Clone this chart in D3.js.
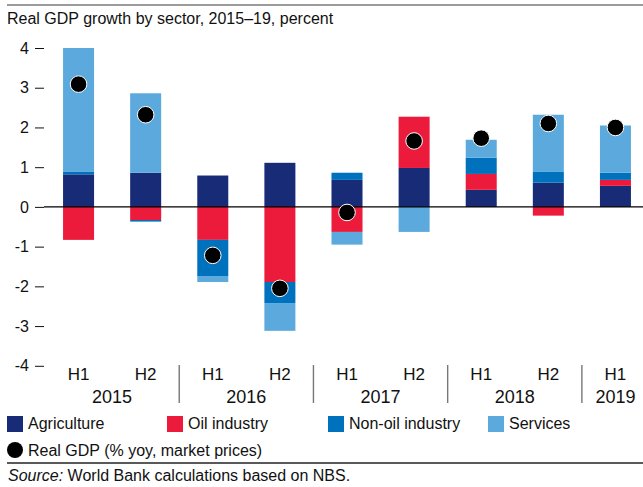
<!DOCTYPE html>
<html>
<head>
<meta charset="utf-8">
<script src="https://cdn.jsdelivr.net/npm/d3@7"></script>
<style>
  body { margin: 0; background: #fff; }
  svg { display: block; font-family: Arial, "Liberation Sans", sans-serif; }
</style>
</head>
<body>
<svg id="chart" width="643" height="487"></svg>
<script>
// chart data
const periods = ["H1", "H2", "H1", "H2", "H1", "H2", "H1", "H2", "H1"];
const years = ["2015", "2016", "2017", "2018", "2019"];
const yearOfPeriod = ["2015", "2015", "2016", "2016", "2017", "2017", "2018", "2018", "2019"];
const agriculture = [0.82, 0.86, 0.79, 1.11, 0.68, 0.98, 0.43, 0.61, 0.53];
const oilIndustry = [-0.83, -0.33, -0.83, -1.89, -0.63, 1.29, 0.40, -0.22, 0.15];
const nonOilIndustry = [0.06, -0.04, -0.91, -0.53, 0.18, 0.0, 0.41, 0.27, 0.18];
const services = [3.12, 2.00, -0.15, -0.70, -0.32, -0.63, 0.45, 1.44, 1.19];
const realGdp = [3.09, 2.32, -1.22, -2.05, -0.14, 1.66, 1.73, 2.10, 2.00];
const yTicks = [-4, -3, -2, -1, 0, 1, 2, 3, 4];

const seriesNames = ["Agriculture", "Oil industry", "Non-oil industry", "Services"];
const colors = ["#172b77", "#ed1b3b", "#0071bc", "#5caadd"];

const svg = d3.select("#chart");
const W = 643;

// table for the stack
const rows = periods.map((p, i) => ({
  idx: i,
  "Agriculture": agriculture[i],
  "Oil industry": oilIndustry[i],
  "Non-oil industry": nonOilIndustry[i],
  "Services": services[i]
}));

const x = d3.scaleBand()
  .domain(d3.range(periods.length))
  .range([45, 649])
  .paddingInner(0.538)
  .paddingOuter(0.269);

const y = d3.scaleLinear()
  .domain([-4, 4])
  .range([365.8, 48]);

const stacked = d3.stack()
  .keys(seriesNames)
  .offset(d3.stackOffsetDiverging)(rows);

// top rule
svg.append("line")
  .attr("x1", 7).attr("x2", W)
  .attr("y1", 5).attr("y2", 5)
  .attr("stroke", "#7a7a7a")
  .attr("stroke-width", 1.6);

// title
svg.append("text")
  .attr("x", 7).attr("y", 24)
  .style("font-size", "16px")
  .attr("fill", "#111")
  .text("Real GDP growth by sector, 2015\u201319, percent");

// y axis
const yAxis = svg.append("g")
  .attr("transform", "translate(44,0)")
  .call(d3.axisLeft(y).tickValues(yTicks).tickSize(9).tickPadding(6).tickFormat(d => String(d)));
yAxis.select(".domain").remove();
yAxis.selectAll("line").attr("stroke", "#111");
yAxis.selectAll("text")
  .style("font-size", "16px")
  .style("font-family", "Arial, 'Liberation Sans', sans-serif")
  .attr("fill", "#111");

// bars
svg.append("g")
  .selectAll("g")
  .data(stacked)
  .join("g")
  .attr("fill", (d, i) => colors[i])
  .selectAll("rect")
  .data(d => d)
  .join("rect")
  .attr("x", d => x(d.data.idx))
  .attr("y", d => y(Math.max(d[0], d[1])))
  .attr("width", x.bandwidth())
  .attr("height", d => Math.abs(y(d[0]) - y(d[1])));

// zero line
svg.append("line")
  .attr("x1", 44).attr("x2", W)
  .attr("y1", y(0)).attr("y2", y(0))
  .attr("stroke", "#000")
  .attr("stroke-width", 1.2);

// real GDP dots
svg.append("g")
  .selectAll("circle")
  .data(realGdp)
  .join("circle")
  .attr("cx", (d, i) => x(i) + x.bandwidth() / 2)
  .attr("cy", d => y(d))
  .attr("r", 8.3)
  .attr("fill", "#000")
  .attr("stroke", "#fff")
  .attr("stroke-width", 1);

// x axis: half-year labels
const xAxis = svg.append("g")
  .attr("transform", "translate(0,360)")
  .call(d3.axisBottom(x).tickSize(0).tickPadding(8).tickFormat(i => periods[i]));
xAxis.select(".domain").remove();
xAxis.selectAll("text")
  .style("font-size", "17px")
  .style("font-family", "Arial, 'Liberation Sans', sans-serif")
  .attr("fill", "#111");

// year labels and separators
const center = i => x(i) + x.bandwidth() / 2;
years.forEach(yr => {
  const idx = d3.range(periods.length).filter(i => yearOfPeriod[i] === yr);
  const cx = d3.mean(idx, center);
  svg.append("text")
    .attr("x", cx).attr("y", 403)
    .attr("text-anchor", "middle")
    .style("font-size", "18px")
    .attr("fill", "#111")
    .text(yr);
});
for (let i = 1; i < periods.length; i++) {
  if (yearOfPeriod[i] !== yearOfPeriod[i - 1]) {
    const sx = (center(i - 1) + center(i)) / 2;
    svg.append("line")
      .attr("x1", sx).attr("x2", sx)
      .attr("y1", 365).attr("y2", 403)
      .attr("stroke", "#777")
      .attr("stroke-width", 1.4);
  }
}

// legend
const legendX = [7, 167, 328, 488];
const legend = svg.append("g");
seriesNames.forEach((name, i) => {
  legend.append("rect")
    .attr("x", legendX[i]).attr("y", 416)
    .attr("width", 16).attr("height", 16)
    .attr("fill", colors[i]);
  legend.append("text")
    .attr("x", legendX[i] + 21).attr("y", 428.5)
    .style("font-size", "16px")
    .attr("fill", "#111")
    .text(name);
});
legend.append("circle")
  .attr("cx", 15).attr("cy", 450)
  .attr("r", 8)
  .attr("fill", "#000");
legend.append("text")
  .attr("x", 28).attr("y", 455.5)
  .style("font-size", "16px")
  .attr("fill", "#111")
  .text("Real GDP (% yoy, market prices)");

// bottom rule and source
svg.append("line")
  .attr("x1", 7).attr("x2", W)
  .attr("y1", 463).attr("y2", 463)
  .attr("stroke", "#222")
  .attr("stroke-width", 1.4);

const src = svg.append("text")
  .attr("x", 8).attr("y", 481)
  .style("font-size", "16px")
  .attr("fill", "#111");
src.append("tspan").style("font-style", "italic").text("Source:");
src.append("tspan").text(" World Bank calculations based on NBS.");
</script>
</body>
</html>
